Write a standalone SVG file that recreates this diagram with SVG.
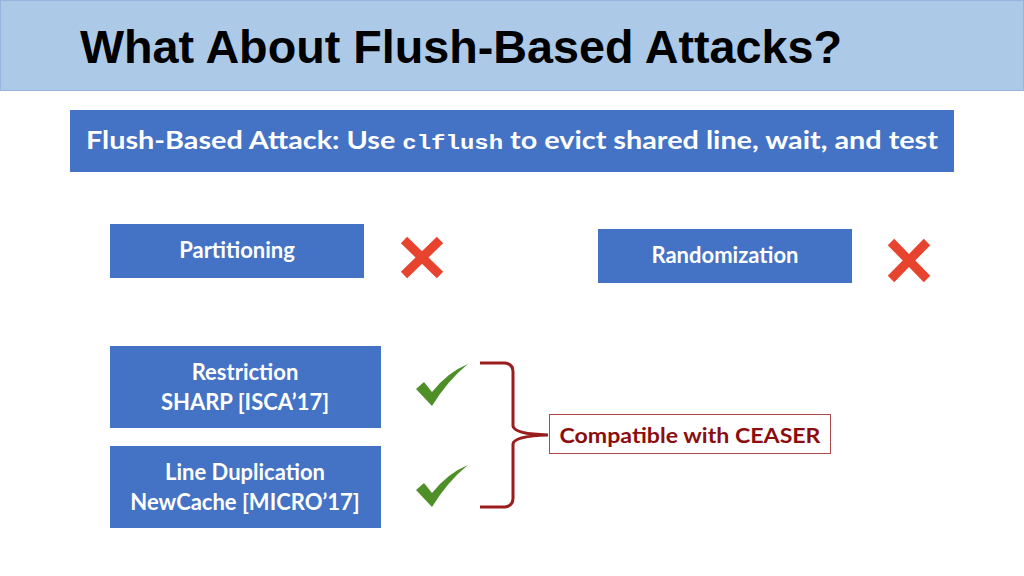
<svg xmlns="http://www.w3.org/2000/svg" width="1024" height="576" viewBox="0 0 1024 576">
<style>
.box{fill:#4472c4}
.wt{fill:#fff;font-family:Lato,"Open Sans",sans-serif;font-weight:bold;font-size:22px;text-anchor:middle}
.x{stroke:#e8432f;stroke-width:9;stroke-linecap:butt}
.ck{fill:#4e8f28}
</style>
<rect width="1024" height="576" fill="#fff"/>
<rect x="0.5" y="0.5" width="1023" height="90" fill="#adc9e8" stroke="#96b4de"/>
<text x="80" y="63" font-family="'Liberation Sans',Arial,sans-serif" font-weight="bold" font-size="47" textLength="762" lengthAdjust="spacingAndGlyphs">What About Flush-Based Attacks?</text>
<g id="banner">
<rect class="box" x="70" y="110" width="884" height="62"/>
<text x="86" y="149" fill="#fff" font-family="Lato,'Open Sans',sans-serif" font-weight="bold" font-size="24" textLength="852" lengthAdjust="spacingAndGlyphs">Flush-Based Attack: Use <tspan font-family="'Liberation Mono',monospace" font-size="20">clflush</tspan> to evict shared line, wait, and test</text>
</g>
<g id="partitioning">
<rect class="box" x="110" y="224" width="254" height="54"/>
<text class="wt" x="237" y="258">Partitioning</text>
</g>
<g id="x1"><path class="x" d="M404 240 L440 275 M440 240 L404 275"/></g>
<g id="randomization">
<rect class="box" x="598" y="229" width="254" height="54"/>
<text class="wt" x="725" y="263">Randomization</text>
</g>
<g id="x2"><path class="x" d="M891 242 L927 279 M927 242 L891 279"/></g>
<g id="restriction">
<rect class="box" x="110" y="346" width="271" height="82"/>
<text class="wt" x="245" y="380">Restriction</text>
<text class="wt" x="245" y="410">SHARP [ISCA’17]</text>
</g>
<g id="linedup">
<rect class="box" x="110" y="446" width="271" height="82"/>
<text class="wt" x="245" y="480">Line Duplication</text>
<text class="wt" x="245" y="510">NewCache [MICRO’17]</text>
</g>
<g id="check1"><path class="ck" d="M416 389 L424 382 L432 392 Q448 372 468 364 Q448 380 432 406 Z"/></g>
<g id="check2"><path class="ck" d="M416 490 L424 483 L432 493 Q448 473 468 465 Q448 481 432 507 Z"/></g>
<g id="connectors">
<path d="M480 363 L505 363 Q513 364 513 372 L513 426 Q514 434 548 435 Q514 436 513 444 L513 498 Q513 506 505 507 L480 507" fill="none" stroke="#9b1c1c" stroke-width="3"/>
</g>
<g id="ceaser">
<rect x="549.5" y="414.5" width="281" height="39" fill="#fff" stroke="#b04a4a" stroke-width="1"/>
<text x="690" y="443" fill="#8b0d0d" font-family="Lato,'Open Sans',sans-serif" font-weight="bold" font-size="21" text-anchor="middle" textLength="261" lengthAdjust="spacingAndGlyphs">Compatible with CEASER</text>
</g>
</svg>
